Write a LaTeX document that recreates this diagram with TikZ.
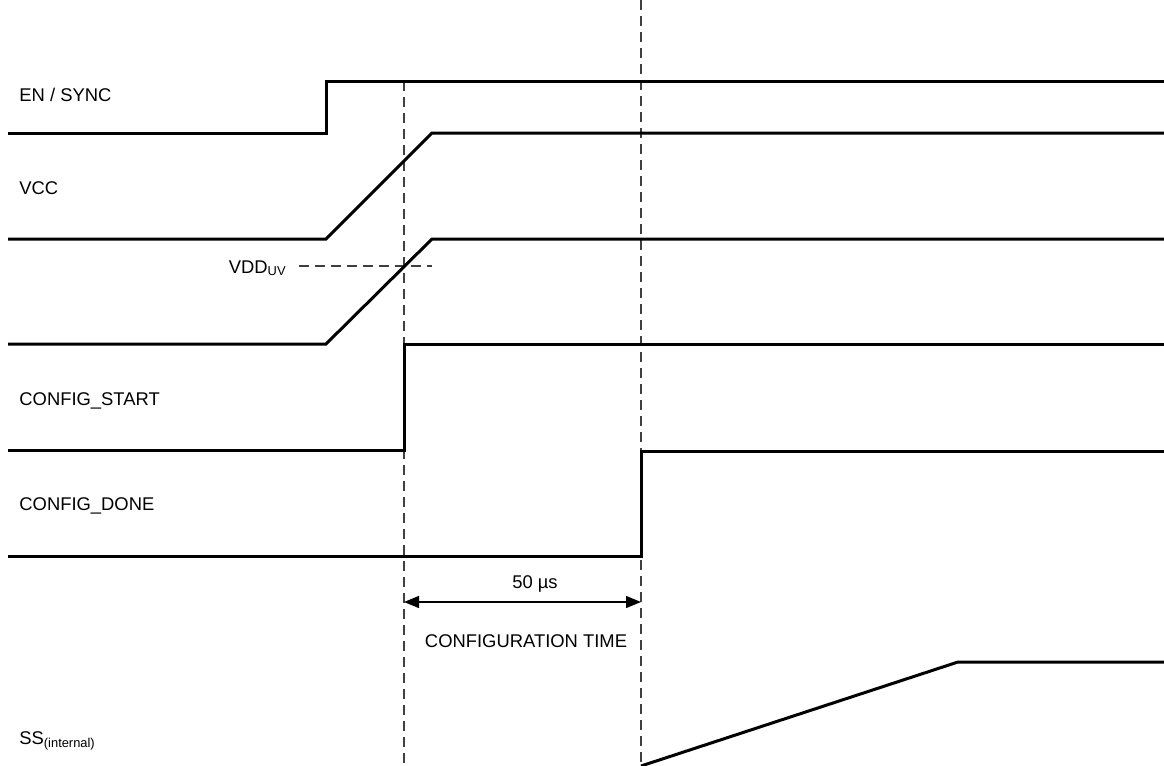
\documentclass[tikz,border=0pt]{standalone}
\usepackage{fontspec}
\setmainfont{Liberation Sans}
\usetikzlibrary{arrows.meta}
\tikzset{
  sig/.style={line width=1.5pt, line join=miter},
  guide/.style={line width=0.6pt, draw=black!75, dash pattern=on 5pt off 3pt},
  lbl/.style={anchor=base west, inner sep=0pt, font=\fontsize{9.2}{11}\selectfont},
  note/.style={anchor=base, inner sep=0pt, font=\fontsize{9.2}{11}\selectfont},
  dim/.style={{Triangle[length=7.5pt,width=6pt]}-{Triangle[length=7.5pt,width=6pt]}, line width=0.7pt},
}

\begin{document}
\begin{tikzpicture}[x=0.5pt, y=-0.5pt]
  \useasboundingbox (0,0) rectangle (1164,766);
  % guide lines
  \draw[guide] (404,81) -- (404,766);
  \draw[guide] (641,0) -- (641,766);
  \draw[guide] (299,266) -- (432,266);
  % signal labels
  \node[lbl] (en) at (19,101) {EN / SYNC};
  \node[lbl] (vcc) at (19,194) {VCC};
  \node[lbl, anchor=base east] (vdd) at (287,273) {VDD\textsubscript{UV}};
  \node[lbl] (cfgstart) at (19,405) {CONFIG\_START};
  \node[lbl] (cfgdone) at (19,510) {CONFIG\_DONE};
  \node[lbl] (ss) at (19,744) {SS\textsubscript{(internal)}};
  % waveforms
  \draw[sig] (8,133) -- (326,133) -- (326,81) -- (1164,81);
  \draw[sig] (8,239) -- (326,239) -- (432,133) -- (1164,133);
  \draw[sig] (8,344) -- (326,344) -- (432,239) -- (1164,239);
  \draw[sig] (8,450) -- (404,450) -- (404,344) -- (1164,344);
  \draw[sig] (8,556) -- (641,556) -- (641,451) -- (1164,451);
  \draw[sig] (641,766) -- (958,662) -- (1164,662);
  % configuration time
  \coordinate (tstart) at (404,602);
  \coordinate (tdone) at (641,602);
  \draw[dim] (tstart) -- (tdone);
  \node[note] (dt) at (535,588) {50 µs};
  \node[note] (cfgtime) at (526,647) {CONFIGURATION TIME};
\end{tikzpicture}
\end{document}
